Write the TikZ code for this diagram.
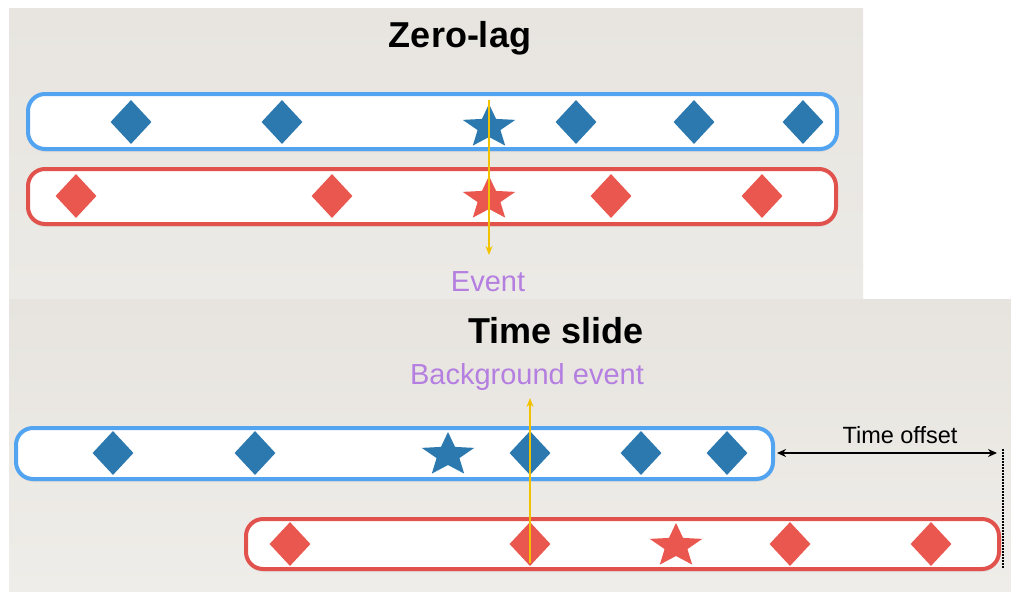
\documentclass[tikz,border=0pt]{standalone}
\usepackage{fontspec}
\setmainfont{Liberation Sans}
\usetikzlibrary{shapes.geometric,arrows.meta,shadows}
\definecolor{bgtopA}{HTML}{E8E5E0}
\definecolor{bgbotA}{HTML}{ECEAE6}
\definecolor{bgtopB}{HTML}{E7E4DF}
\definecolor{bgbotB}{HTML}{EFEDE9}
\definecolor{bstroke}{HTML}{52A4F0}
\definecolor{bfill}{HTML}{2B79AF}
\definecolor{rstroke}{HTML}{E2524D}
\definecolor{rfill}{HTML}{E9574F}
\definecolor{evpurple}{HTML}{B47FE0}
\definecolor{evyellow}{HTML}{F2C200}
\begin{document}
\begin{tikzpicture}[x=1pt,y=-1pt,
 bar/.style={draw, line width=4pt, fill=white, rounded corners=17pt, inner sep=0pt, outer sep=0pt,
   drop shadow={opacity=0.12, shadow xshift=0pt, shadow yshift=-3pt}},
 bluebar/.style={bar, draw=bstroke},
 redbar/.style={bar, draw=rstroke},
 gem/.style={diamond, inner sep=0pt, minimum width=41pt, minimum height=44pt, draw=none},
 bgem/.style={gem, fill=bfill},
 rgem/.style={gem, fill=rfill},
 evstar/.style={star, star points=5, star point ratio=2.3, minimum size=46pt, inner sep=0pt, xscale=1.2},
 bstar/.style={evstar, fill=bfill},
 rstar/.style={evstar, fill=rfill},
 title/.style={font=\fontsize{36}{40}\selectfont\bfseries, anchor=base, inner sep=0pt},
 evlabel/.style={font=\fontsize{29}{32}\selectfont, text=evpurple, anchor=base, inner sep=0pt},
 evline/.style={draw=evyellow, line width=2.2pt, -{Stealth[length=9pt,width=7pt]}},
 offarrow/.style={draw=black, line width=2pt, {Stealth[length=9pt,width=8pt]}-{Stealth[length=9pt,width=8pt]}},
 dotline/.style={draw=black, line width=1.6pt, dash pattern=on 1.5pt off 1.5pt}
]
\useasboundingbox (0,0) rectangle (1011,592);
\fill[white] (0,0) rectangle (1011,592);
\shade[top color=bgtopA, bottom color=bgbotA] (9,8) rectangle (863,299);
\shade[top color=bgtopB, bottom color=bgbotB] (9,299) rectangle (1011,591);

% ---------- Zero-lag ----------
\node[title] (t1) at (460,47) {Zero-lag};
\node[bluebar, minimum width=809pt, minimum height=55pt] (zb) at (432.5,121.5) {};
\node[redbar, minimum width=808pt, minimum height=55pt] (zr) at (432,196.5) {};

\node[bgem] (zb1) at (131,122) {};
\node[bgem] (zb2) at (282,122) {};
\node[bstar] (zbs) at (489,127) {};
\node[bgem] (zb3) at (576,122) {};
\node[bgem] (zb4) at (694,122) {};
\node[bgem] (zb5) at (803,122) {};

\node[rgem] (zr1) at (76,196) {};
\node[rgem] (zr2) at (332,196) {};
\node[rstar] (zrs) at (489,199) {};
\node[rgem] (zr3) at (611,196) {};
\node[rgem] (zr4) at (762,196) {};

\node[evlabel] (ev) at (488,291) {Event};
\coordinate (zarrowtop) at (489,100);
\coordinate (zarrowtip) at (489,255);
\draw[evline] (zarrowtop) -- (zarrowtip);

% ---------- Time slide ----------
\node[title] (t2) at (556,343) {Time slide};
\node[evlabel] (bev) at (527,384) {Background event};

\node[bluebar, minimum width=757pt, minimum height=51pt] (sb) at (394.5,453.5) {};
\node[redbar, minimum width=753pt, minimum height=50pt] (sr) at (622.5,544) {};

\node[bgem] (sb1) at (113,453) {};
\node[bgem] (sb2) at (255,453) {};
\node[bstar] (sbs) at (448,455) {};
\node[bgem] (sb3) at (530,453) {};
\node[bgem] (sb4) at (641,453) {};
\node[bgem] (sb5) at (727,453) {};

\node[rgem] (sr1) at (290,544) {};
\node[rgem] (sr2) at (530,544) {};
\node[rstar] (srs) at (676,546) {};
\node[rgem] (sr3) at (790,544) {};
\node[rgem] (sr4) at (931,544) {};

\coordinate (sarrowbot) at (530,563);
\coordinate (sarrowtip) at (530,398);
\draw[evline] (sarrowbot) -- (sarrowtip);

\node[font=\fontsize{23.5}{27}\selectfont, anchor=base, inner sep=0pt] (off) at (900,443) {Time offset};
\coordinate (offend) at (1003,453);
\coordinate (dtop) at (1003,449);
\coordinate (dbot) at (1003,568);
\draw[offarrow] ([xshift=4pt]sb.east |- offend) -- ([xshift=-6pt]offend);
\draw[dotline] (dtop) -- (dbot);
\end{tikzpicture}
\end{document}
